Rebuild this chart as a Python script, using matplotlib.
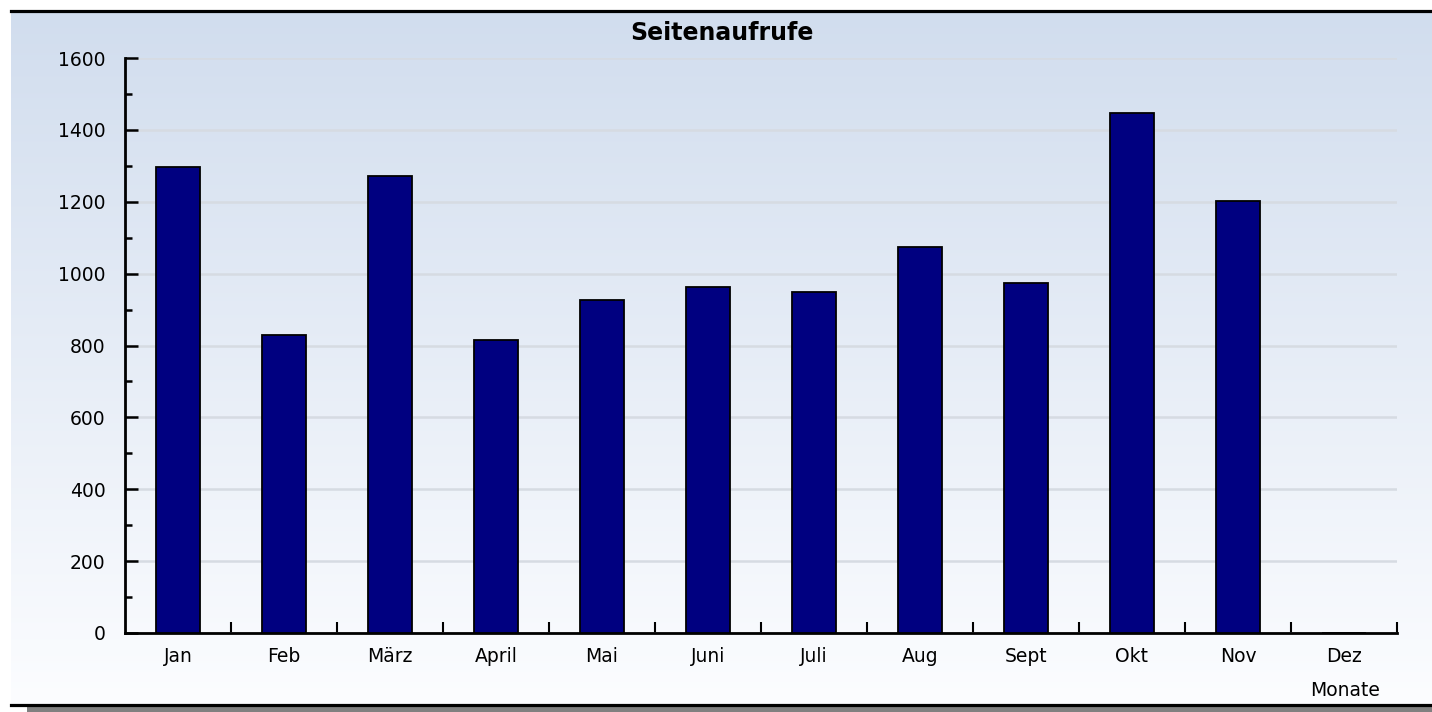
import numpy as np
import matplotlib
matplotlib.use('Agg')
import matplotlib.pyplot as plt
from matplotlib.ticker import MultipleLocator
from matplotlib.lines import Line2D
from matplotlib.patches import Rectangle

# monthly page views
months = ['Jan', 'Feb', 'März', 'April', 'Mai', 'Juni', 'Juli', 'Aug', 'Sept', 'Okt', 'Nov', 'Dez']
views  = [1298, 828, 1273, 816, 926, 963, 950, 1074, 975, 1447, 1203, 0]

title   = 'Seitenaufrufe'
x_label = 'Monate'

W, H = 1432, 712
plt.rcParams['font.family'] = ['DejaVu Sans']

F = plt.figure(figsize=(W/100., H/100.), dpi=100)

# panel with a vertical gradient, light blue at top fading to white
px0, py0, py1 = 11./W, (H-705.)/H, (H-11.)/H
bg = F.add_axes([px0, py0, 1-px0, py1-py0])
top_c = np.array([209, 221, 238])/255.
bot_c = np.array([252, 253, 255])/255.
t = np.linspace(0, 1, 256)[:, None, None]
grad = top_c*(1-t) + bot_c*t
bg.imshow(grad, aspect='auto', extent=[0, 1, 0, 1])
bg.set_axis_off()

# frame lines of the panel
F.add_artist(Line2D([px0, 1], [py1, py1], transform=F.transFigure, color='k', lw=2.3))
F.add_artist(Line2D([px0, 1], [py0, py0], transform=F.transFigure, color='k', lw=2.3))
F.add_artist(Rectangle((27./W, 0), 1, py0-1.5/H, transform=F.transFigure, color='#808080', lw=0))

# the bar chart itself
ax = F.add_axes([125./W, (H-633.)/H, (1397.-125.)/W, (633.-58.)/H])
ax.patch.set_alpha(0)
x = np.arange(len(months))
ax.bar(x, views, width=0.41, color='#000080', edgecolor='k', linewidth=1.3, zorder=3)

ax.set_xlim(-0.5, len(months)-0.5)
ax.set_ylim(0, 1600)
ax.yaxis.set_major_locator(MultipleLocator(200))
ax.yaxis.set_minor_locator(MultipleLocator(100))
ax.grid(axis='y', which='major', color='#d6dbe2', lw=1.8, zorder=0)

ax.set_xticks(x)
ax.set_xticklabels(months, fontsize=13.5)
ax.tick_params(axis='x', which='major', length=0, pad=10)
ax.set_xticks(np.arange(0.5, len(months), 1.), minor=True)
ax.tick_params(axis='x', which='minor', direction='in', length=8, width=1.5, color='k')
ax.tick_params(axis='y', which='major', direction='in', length=9, width=1.8, labelsize=13.5, pad=14)
ax.tick_params(axis='y', which='minor', direction='in', length=5, width=1.8)

for s in ['top', 'right']:
    ax.spines[s].set_visible(False)
for s in ['left', 'bottom']:
    ax.spines[s].set_linewidth(2)

F.text((11.+W)/2./W, (H-33.)/H, title, ha='center', va='center', fontsize=17, fontweight='bold')
F.text(1345./W, (H-690.)/H, x_label, ha='center', va='center', fontsize=13.5)

F.savefig('out.png', dpi=100)
